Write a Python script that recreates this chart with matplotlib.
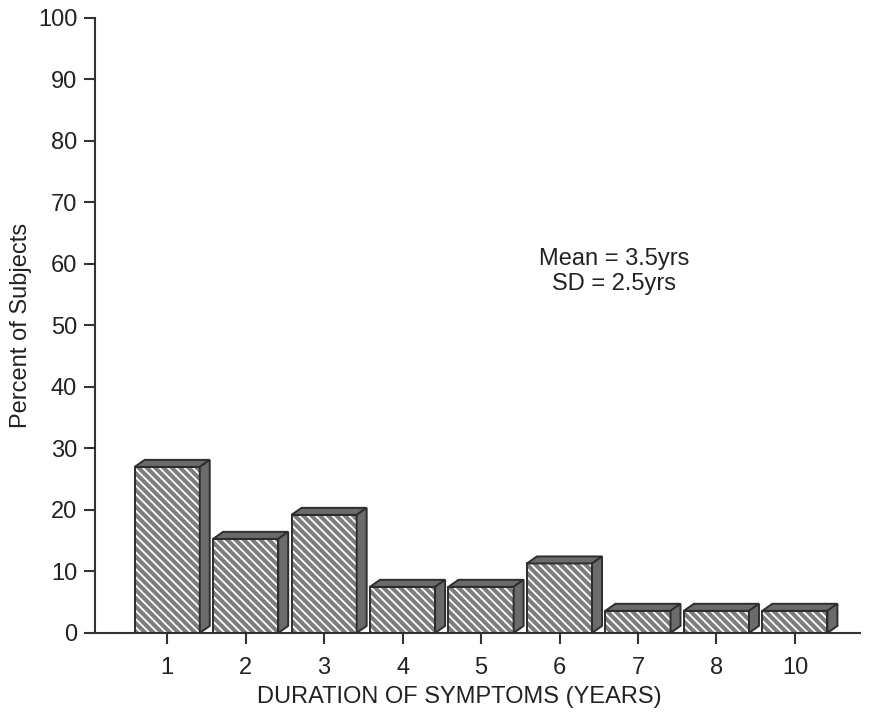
import matplotlib.pyplot as plt
from matplotlib.patches import Polygon

plt.rcParams['font.family'] = ['Liberation Sans', 'DejaVu Sans']
plt.rcParams['hatch.linewidth'] = 1.3

# data
years = ['1', '2', '3', '4', '5', '6', '7', '8', '10']
percent = [27.0, 15.3, 19.2, 7.5, 7.5, 11.3, 3.6, 3.6, 3.6]

fig = plt.figure(figsize=(8.74, 7.16), dpi=100)
ax = fig.add_axes([0.109, 0.116, 0.875, 0.859])

pos = list(range(len(years)))
w = 0.83
dx, dy = 0.127, 1.14   # fake 3d depth
edge = '#2e2e2e'

# hatched front faces
ax.bar(pos, percent, width=w, color='#7d7d7d', edgecolor='white', hatch='\\\\\\\\', linewidth=0, zorder=2)
ax.bar(pos, percent, width=w, fill=False, edgecolor=edge, linewidth=1.4, zorder=3)

# top and side faces
for p, h in zip(pos, percent):
    x0, x1 = p - w / 2, p + w / 2
    top = Polygon([(x0, h), (x0 + dx, h + dy), (x1 + dx, h + dy), (x1, h)],
                  closed=True, facecolor='#6b6b6b', edgecolor=edge, linewidth=1.4, zorder=3)
    side = Polygon([(x1, 0), (x1, h), (x1 + dx, h + dy), (x1 + dx, dy)],
                   closed=True, facecolor='#6b6b6b', edgecolor=edge, linewidth=1.4, zorder=3)
    ax.add_patch(top)
    ax.add_patch(side)

ax.set_xlim(-0.917, 8.83)
ax.set_ylim(0, 100)
ax.set_xticks(pos)
ax.set_xticklabels(years)
ax.set_yticks(range(0, 101, 10))

for s in ['top', 'right']:
    ax.spines[s].set_visible(False)
for s in ['left', 'bottom']:
    ax.spines[s].set_color('#333333')
    ax.spines[s].set_linewidth(1.5)
ax.tick_params(axis='both', length=8, width=1.5, color='#333333', labelsize=17, labelcolor='#222222')
ax.tick_params(axis='x', pad=9)
ax.tick_params(axis='y', pad=5)

ax.set_xlabel('DURATION OF SYMPTOMS (YEARS)', fontsize=17, color='#222222')
ax.xaxis.set_label_coords(0.476, -0.086)
ax.set_ylabel('Percent of Subjects', fontsize=17, color='#222222', labelpad=4)

ax.text(5.7, 58.8, 'Mean = 3.5yrs\nSD = 2.5yrs', ha='center', va='center',
        fontsize=17, color='#222222', linespacing=1.15)

plt.savefig('out.png', dpi=100)
